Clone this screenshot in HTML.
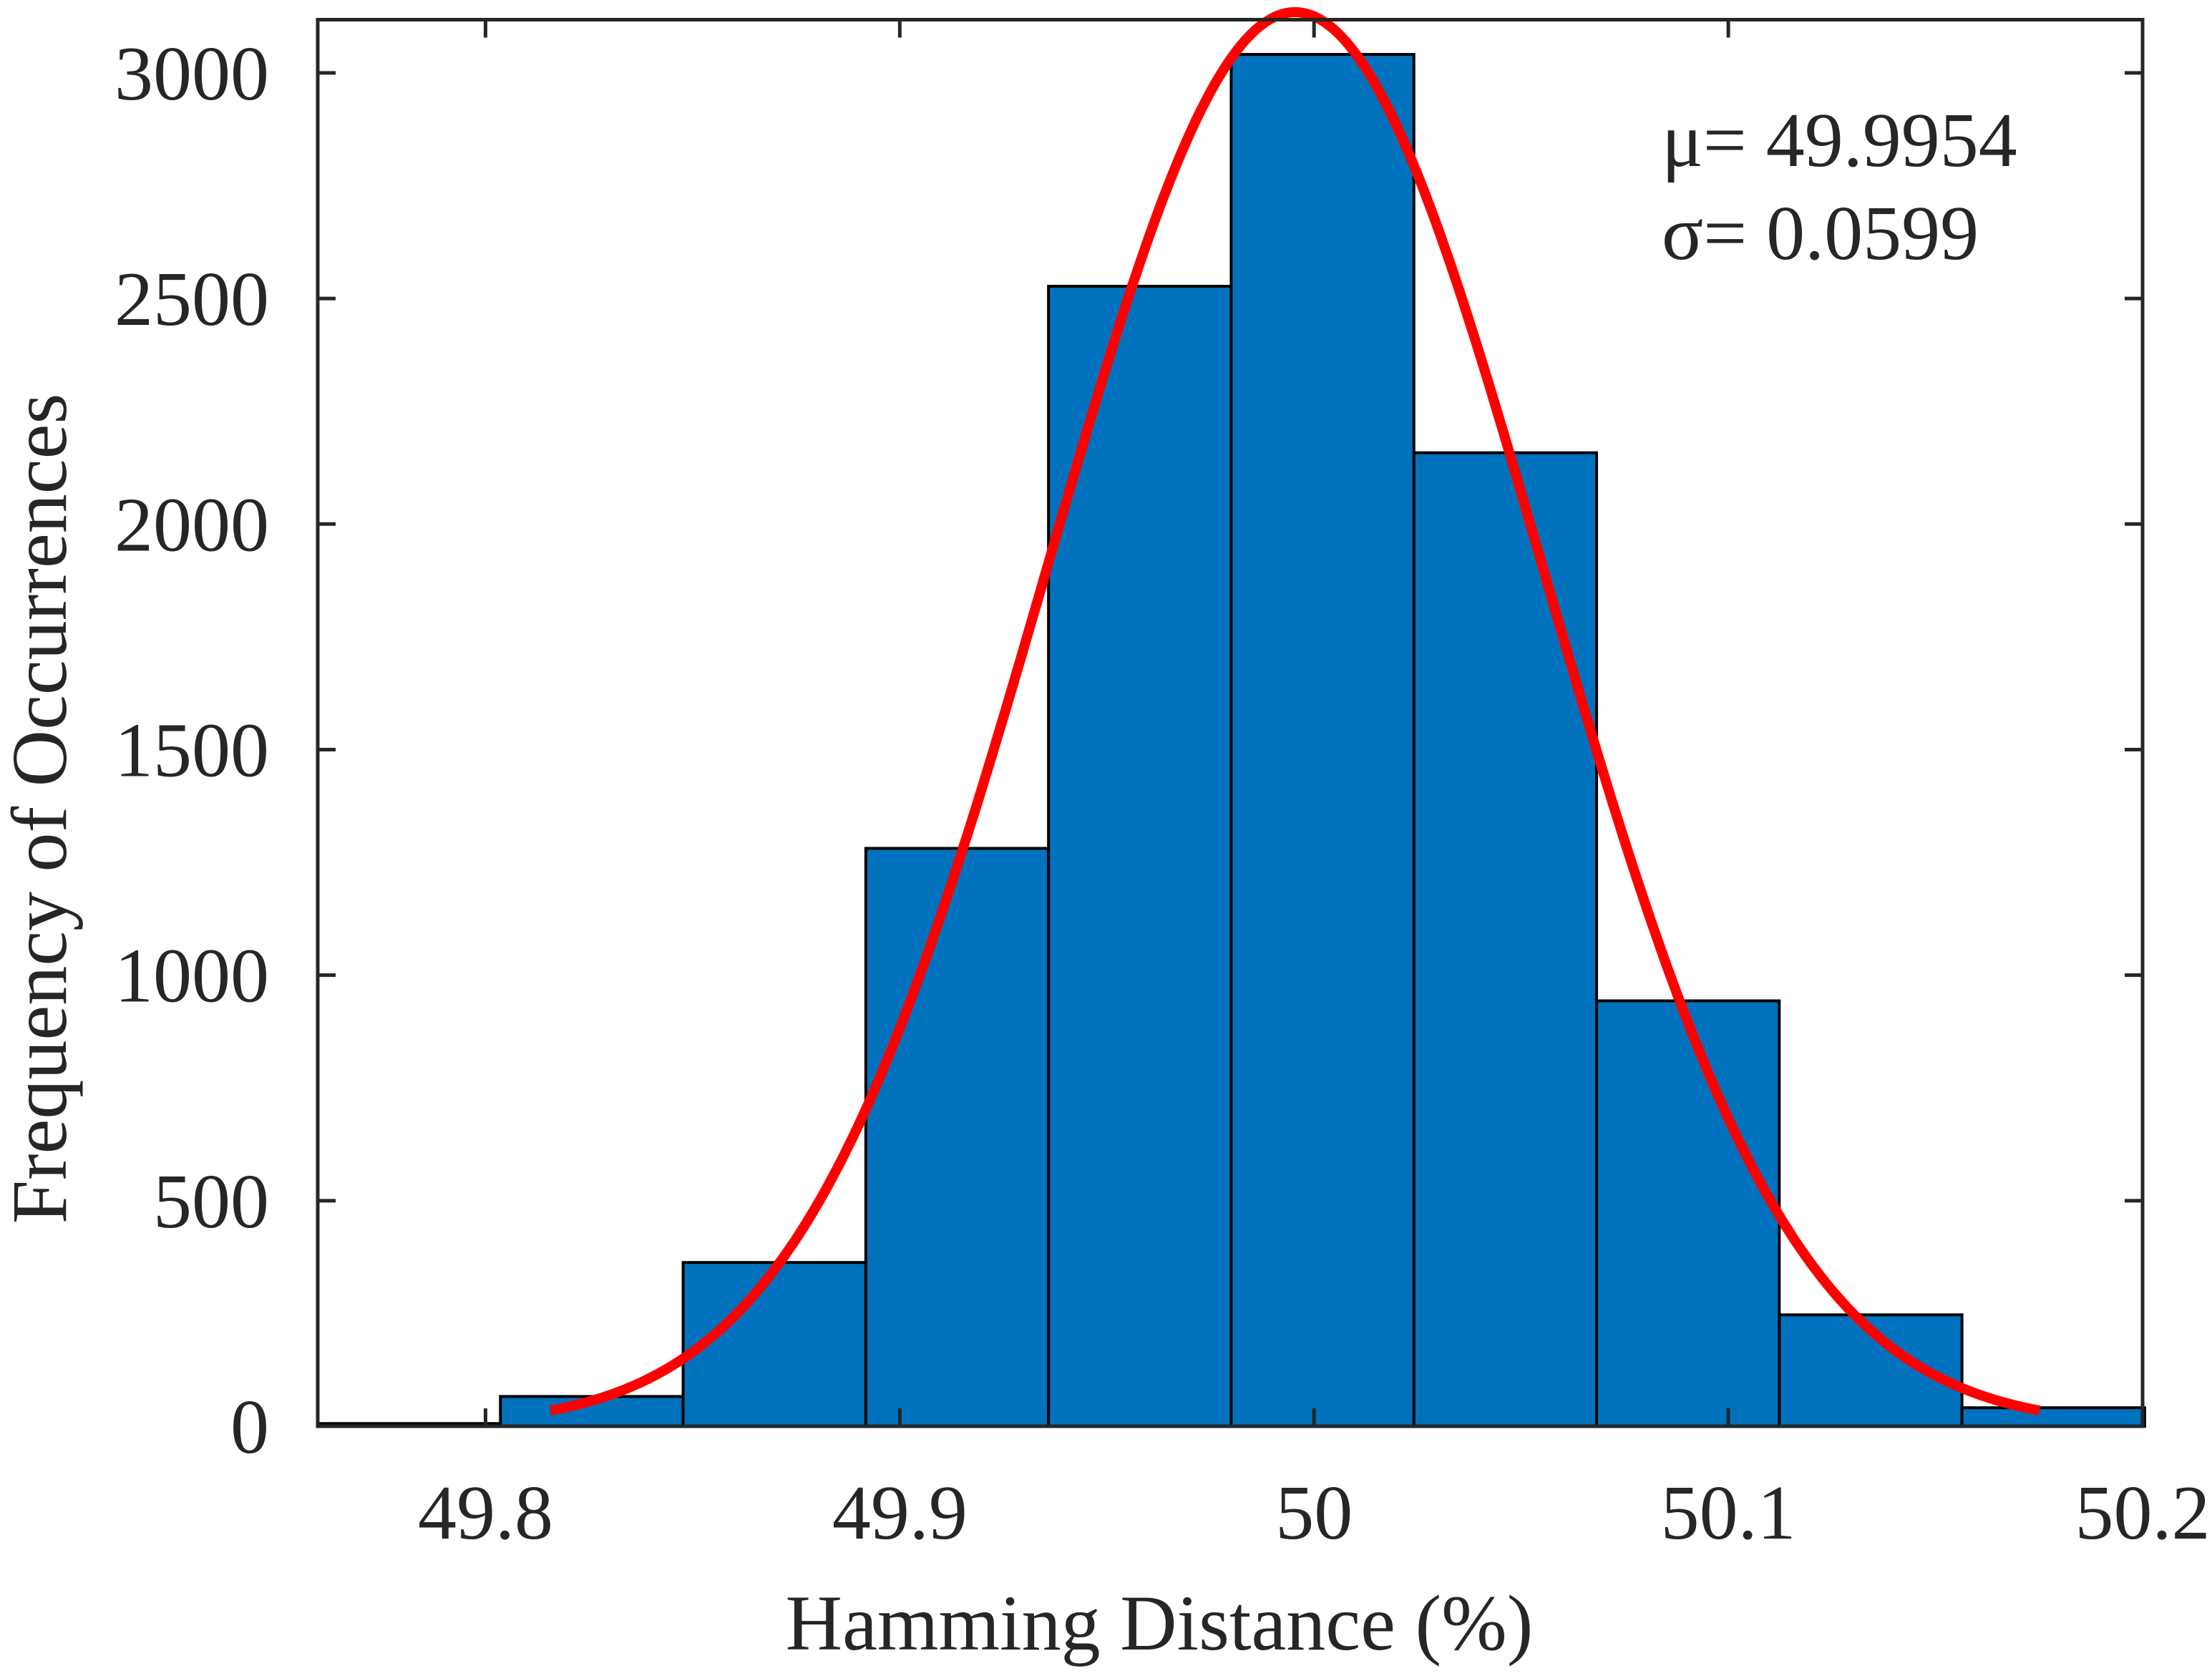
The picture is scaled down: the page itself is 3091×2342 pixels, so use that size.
<!DOCTYPE html>
<html><head><meta charset="utf-8"><style>
html,body{margin:0;padding:0;background:#fff;}
svg{display:block;font-family:"Liberation Serif",serif;}
</style></head><body>
<svg id="chart" width="3091" height="2342" viewBox="0 0 3091 2342" xmlns="http://www.w3.org/2000/svg">
<g id="bars"></g>
<path id="fit" fill="none" stroke="#ff0000" stroke-width="14"/>
<g id="ticks"></g>
<rect x="444" y="27.5" width="2550" height="1965.5" fill="none" stroke="#262626" stroke-width="5"/>
<text x="1620" y="2305" font-size="110" text-anchor="middle" fill="#262626">Hamming Distance (%)</text>
<text transform="translate(92,1130) rotate(-90)" font-size="110" text-anchor="middle" fill="#262626">Frequency of Occurrences</text>
<text x="2322" y="232" font-size="108" fill="#262626">μ= 49.9954</text>
<text x="2322" y="362" font-size="108" fill="#262626">σ= 0.0599</text>
</svg>
<script>
const binStart = 49.7595;
const binWidth = 0.0441;
const counts = [6, 66, 363, 1281, 2527, 3041, 2158, 943, 247, 41];
const mu = 49.9954;
const sigma = 0.0599;
const xTicks = [49.8, 49.9, 50, 50.1, 50.2];
const xTickLabels = ["49.8", "49.9", "50", "50.1", "50.2"];
const yTicks = [0, 500, 1000, 1500, 2000, 2500, 3000];
const yTickLabels = ["0", "500", "1000", "1500", "2000", "2500", "3000"];

const L=444,R=2994,T=27.5,B=1993;
const xMin=49.7595,xMax=50.2;
const yMin=0,yMax=3118;
const sx=v=>L+(v-xMin)/(xMax-xMin)*(R-L);
const sy=v=>B-(v-yMin)/(yMax-yMin)*(B-T);
const NS="http://www.w3.org/2000/svg";
const bars=document.getElementById('bars');
counts.forEach((c,i)=>{
  const x0=sx(binStart+i*binWidth), x1=sx(binStart+(i+1)*binWidth);
  const r=document.createElementNS(NS,'rect');
  r.setAttribute('x',x0);r.setAttribute('y',sy(c));
  r.setAttribute('width',x1-x0);r.setAttribute('height',B-sy(c));
  r.setAttribute('fill','#0072bd');r.setAttribute('stroke','#000');r.setAttribute('stroke-width','4');
  
  
  bars.appendChild(r);
});
const N=counts.reduce((a,b)=>a+b,0);
const scale=N*binWidth/(sigma*Math.sqrt(2*Math.PI));
let d='';
for(let k=0;k<=300;k++){
  const x=mu-3*sigma+k*(6*sigma)/300;
  const y=scale*Math.exp(-0.5*((x-mu)/sigma)**2);
  d+=(k?'L':'M')+sx(x).toFixed(1)+' '+sy(y).toFixed(1);
}
document.getElementById('fit').setAttribute('d',d);
const tg=document.getElementById('ticks');
function line(x1,y1,x2,y2,name){
  const l=document.createElementNS(NS,'line');
  l.setAttribute('x1',x1);l.setAttribute('y1',y1);l.setAttribute('x2',x2);l.setAttribute('y2',y2);
  l.setAttribute('stroke','#262626');l.setAttribute('stroke-width','5');
  
  
  tg.appendChild(l);
}
function text(x,y,s,anchor,name){
  const t=document.createElementNS(NS,'text');
  t.setAttribute('x',x);t.setAttribute('y',y);t.setAttribute('font-size','108');
  t.setAttribute('text-anchor',anchor);t.setAttribute('fill','#262626');
  t.textContent=s;
  
  
  tg.appendChild(t);
}
xTicks.forEach((v,i)=>{
  const x=sx(v);
  line(x,B,x,B-25,'x-tick');
  line(x,T,x,T+25,'x-tick-top');
  text(x,2150,xTickLabels[i],'middle','x-tick-label');
});
yTicks.forEach((v,i)=>{
  const y=sy(v);
  line(L,y,L+25,y,'y-tick');
  line(R,y,R-25,y,'y-tick-right');
  text(376,y+37,yTickLabels[i],'end','y-tick-label');
});
</script>
</body></html>
